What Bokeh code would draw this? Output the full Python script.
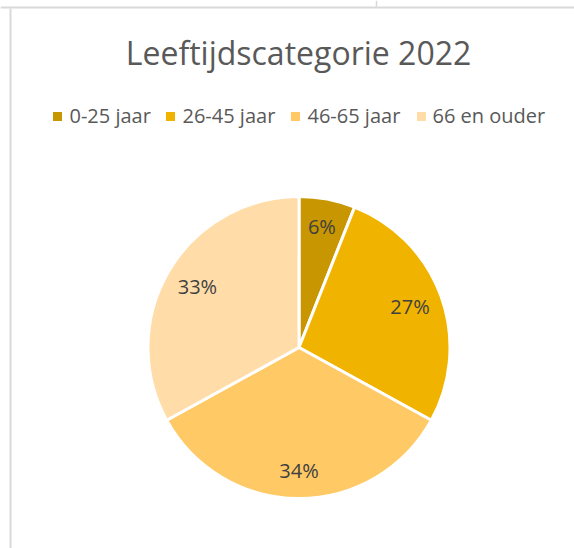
import math
from bokeh.plotting import figure
from bokeh.models import Range1d, ColumnDataSource
from bokeh.core.properties import value
from bokeh.embed import file_html
from bokeh.resources import INLINE

# ---- data ----
title_text = "Leeftijdscategorie 2022"
categories = ["0-25 jaar", "26-45 jaar", "46-65 jaar", "66 en ouder"]
shares = [6, 27, 34, 33]
colors = ["#C89600", "#F0B400", "#FFC966", "#FFDCA8"]

W, H = 574, 548
FONT = "Open Sans"

p = figure(width=W, height=H, output_backend="svg", toolbar_location=None,
           x_range=Range1d(0, W), y_range=Range1d(0, H), min_border=0,
           outline_line_color=None)
p.axis.visible = False
p.grid.visible = False
p.background_fill_color = "white"

def py(pixel_y):  # pixel y (from top) -> data y
    return H - pixel_y

# sheet gridlines around the chart
GRID = "#D9D9D9"
p.segment(x0=[0], y0=[py(7)], x1=[W], y1=[py(7)], line_color=GRID, line_width=2)
p.segment(x0=[10], y0=[py(8)], x1=[10], y1=[0], line_color=GRID, line_width=2)
p.segment(x0=[376], y0=[py(0)], x1=[376], y1=[py(7)], line_color=GRID, line_width=1.5)

# pie
cx, cy, R = 298.5, py(347), 151
total = sum(shares)
cum = [0]
for s in shares:
    cum.append(cum[-1] + s)
starts = [math.pi / 2 - 2 * math.pi * cum[i] / total for i in range(len(shares))]
ends = [math.pi / 2 - 2 * math.pi * cum[i + 1] / total for i in range(len(shares))]
src = ColumnDataSource(dict(start=starts, end=ends, color=colors, cat=categories))
p.wedge(x=cx, y=cy, radius=R, start_angle="start", end_angle="end", direction="clock",
        fill_color="color", line_color="white", line_width=3, source=src)

# percentage labels
lr = [122, 118, 124, 118]
mids = [(a + b) / 2 for a, b in zip(starts, ends)]
lx = [cx + r * math.cos(m) for r, m in zip(lr, mids)]
ly = [cy + r * math.sin(m) + 1 for r, m in zip(lr, mids)]
labels = [f"{round(100 * s / total)}%" for s in shares]
p.text(x=lx, y=ly, text=labels, text_align="center", text_baseline="middle",
       text_font=value(FONT), text_font_size="20px", text_color="#404040")

# title
p.text(x=[298], y=[py(52)], text=[title_text], text_align="center", text_baseline="middle",
       text_font=value(FONT), text_font_size="32px", text_color="#595959")

# legend
sq_x = [57, 170, 295, 421]
tx = [69, 182, 307, 432]
p.rect(x=sq_x, y=[py(116)] * 4, width=9, height=9, fill_color=colors, line_color=None)
p.text(x=tx, y=[py(115)] * 4, text=categories, text_align="left", text_baseline="middle",
       text_font=value(FONT), text_font_size="20px", text_color="#595959")

open("out.html", "w").write(file_html(p, INLINE))
